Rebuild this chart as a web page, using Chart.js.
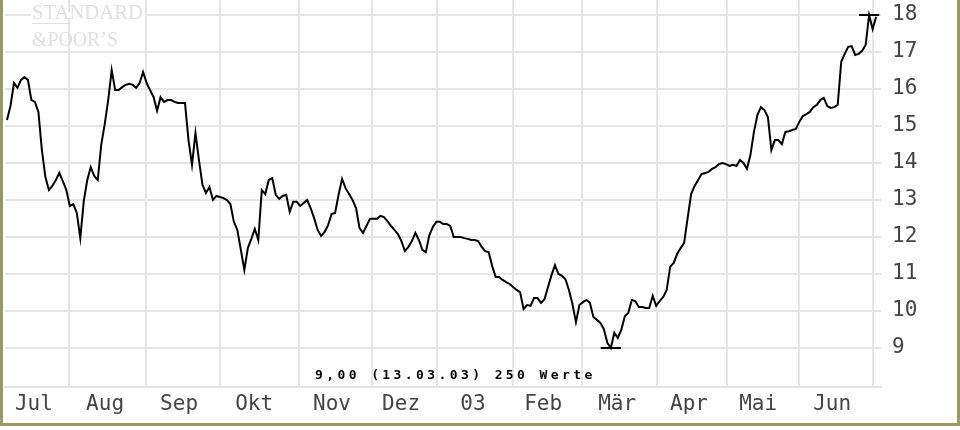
<!DOCTYPE html>
<html>
<head>
<meta charset="utf-8">
<script src="https://cdn.jsdelivr.net/npm/chart.js@4.4.1/dist/chart.umd.min.js"></script>
<style>
  html, body { margin: 0; padding: 0; background: #fff; }
  #wrap { width: 960px; height: 430px; }
</style>
</head>
<body>
<div id="wrap"><canvas id="chart" width="960" height="430"></canvas></div>
<script>
// daily closes, Jul 02 - Jun 03 (250 Werte)
const prices = [
    15.16, 15.54, 16.16, 16.03, 16.24, 16.32, 16.24, 15.70, 15.65, 15.38,
    14.35, 13.62, 13.27, 13.38, 13.54, 13.73, 13.51, 13.27, 12.84, 12.89,
    12.65, 11.97, 12.97, 13.54, 13.89, 13.65, 13.54, 14.49, 15.05, 15.70,
    16.51, 15.97, 15.97, 16.05, 16.11, 16.14, 16.11, 16.03, 16.16, 16.46,
    16.16, 15.97, 15.78, 15.41, 15.78, 15.65, 15.70, 15.70, 15.65, 15.62,
    15.62, 15.62, 14.62, 13.95, 14.81, 14.08, 13.41, 13.19, 13.35, 13.00,
    13.11, 13.08, 13.05, 13.00, 12.89, 12.41, 12.19, 11.65, 11.11, 11.70,
    11.95, 12.22, 11.92, 13.27, 13.16, 13.54, 13.59, 13.14, 13.03, 13.11,
    13.14, 12.68, 12.95, 12.95, 12.84, 12.92, 13.00, 12.78, 12.51, 12.19,
    12.03, 12.14, 12.32, 12.62, 12.65, 13.14, 13.57, 13.32, 13.16, 13.00,
    12.78, 12.24, 12.11, 12.30, 12.49, 12.49, 12.49, 12.57, 12.54, 12.43,
    12.30, 12.19, 12.08, 11.89, 11.62, 11.73, 11.89, 12.11, 11.92, 11.65,
    11.59, 12.05, 12.27, 12.41, 12.41, 12.35, 12.35, 12.30, 12.00, 12.00,
    12.00, 11.97, 11.95, 11.92, 11.92, 11.89, 11.73, 11.62, 11.59, 11.22,
    10.92, 10.92, 10.84, 10.78, 10.73, 10.65, 10.57, 10.51, 10.05, 10.16,
    10.14, 10.35, 10.35, 10.22, 10.32, 10.65, 10.97, 11.24, 11.00, 10.95,
    10.86, 10.57, 10.19, 9.70, 10.16, 10.24, 10.30, 10.22, 9.84, 9.76,
    9.68, 9.51, 9.14, 9.00, 9.41, 9.27, 9.49, 9.86, 9.95, 10.30,
    10.27, 10.11, 10.11, 10.08, 10.08, 10.41, 10.14, 10.27, 10.38, 10.57,
    11.19, 11.30, 11.54, 11.70, 11.84, 12.51, 13.16, 13.38, 13.54, 13.70,
    13.73, 13.76, 13.84, 13.89, 13.97, 14.00, 13.97, 13.92, 13.95, 13.92,
    14.08, 14.00, 13.84, 14.22, 14.84, 15.30, 15.51, 15.43, 15.24, 14.35,
    14.62, 14.62, 14.51, 14.84, 14.86, 14.89, 14.92, 15.11, 15.27, 15.32,
    15.38, 15.51, 15.57, 15.70, 15.76, 15.54, 15.49, 15.51, 15.57, 16.73,
    16.95, 17.14, 17.16, 16.92, 16.95, 17.03, 17.19, 18.00, 17.62, 17.95
];

const monthLabels = ['Jul', 'Aug', 'Sep', 'Okt', 'Nov', 'Dez', '03', 'Feb', 'M\u00e4r', 'Apr', 'Mai', 'Jun'];
const labelPos = [7.7, 28.1, 49.3, 70.8, 93.1, 112.9, 133.5, 153.6, 174.8, 195.4, 215.2, 236.4];
const monthStarts = [17.8, 39.8, 61.0, 83.7, 104.6, 123.2, 145.0, 164.8, 186.2, 206.3, 226.9, 248.1];
const yTicks = [9, 10, 11, 12, 13, 14, 15, 16, 17, 18];
const note = '9,00 (13.03.03) 250 Werte';

const X_MIN = -0.57, X_MAX = 250.4;
const Y_MIN = 7.946, Y_MAX = 18.405;
const GRID = '#e5e5e5';
const tickFont = { family: '"DejaVu Sans Mono", monospace', size: 21 };

// small horizontal bars at the high and low
const maxIdx = prices.indexOf(Math.max(...prices));
const minIdx = prices.indexOf(Math.min(...prices));
const markHalf = 2.9;
function markAt(i) {
    return [{ x: i - markHalf, y: prices[i] }, { x: i + markHalf, y: prices[i] }];
}

function noPad(s) {
    s.paddingTop = 0;
    s.paddingBottom = 0;
    s.paddingLeft = 0;
    s.paddingRight = 0;
}

const frame = {
    id: 'frame',
    beforeDatasetsDraw(chart) {
        const ctx = chart.ctx;
        ctx.save();
        ctx.fillStyle = '#fff';
        ctx.fillRect(31, 12, 114, 6);
        ctx.fillStyle = '#e0e0e0';
        ctx.font = '21px "Liberation Serif", serif';
        ctx.textBaseline = 'alphabetic';
        ctx.fillText('STANDARD', 32, 19, 111);
        ctx.fillText('&POOR\u2019S', 32, 46, 86);
        ctx.fillRect(32, 23, 38, 1);
        ctx.restore();
    },
    afterDraw(chart) {
        const ctx = chart.ctx;
        ctx.save();
        ctx.fillStyle = '#000';
        ctx.font = 'bold 13px "DejaVu Sans Mono", monospace';
        ctx.letterSpacing = '3.4px';
        ctx.textBaseline = 'alphabetic';
        ctx.fillText(note, 315, 379);
        ctx.letterSpacing = '0px';
        ctx.fillStyle = '#999966';
        ctx.fillRect(0, 0, 3, 426);
        ctx.fillRect(957, 0, 3, 426);
        ctx.fillRect(0, 423, 960, 3);
        ctx.restore();
    }
};

const lineStyle = { borderColor: '#000', borderWidth: 2, pointRadius: 0, tension: 0, fill: false };

new Chart(document.getElementById('chart'), {
    type: 'line',
    data: {
        datasets: [
            Object.assign({ data: prices.map((v, i) => ({ x: i, y: v })) }, lineStyle),
            Object.assign({ data: markAt(maxIdx) }, lineStyle),
            Object.assign({ data: markAt(minIdx) }, lineStyle)
        ]
    },
    options: {
        responsive: false,
        animation: false,
        devicePixelRatio: 1,
        layout: { padding: { left: 5, top: 0, right: 0, bottom: 0 } },
        plugins: { legend: { display: false }, tooltip: { enabled: false } },
        scales: {
            x: {
                type: 'linear', position: 'bottom', weight: 0,
                min: X_MIN, max: X_MAX,
                afterBuildTicks: s => { s.ticks = monthStarts.map(v => ({ value: v })); },
                afterFit: s => { s.height = 0; noPad(s); },
                ticks: { display: false },
                grid: { color: GRID, lineWidth: 2, drawTicks: false },
                border: { display: true, color: GRID, width: 2 }
            },
            xl: {
                type: 'linear', position: 'bottom', weight: 1,
                min: X_MIN, max: X_MAX,
                afterBuildTicks: s => { s.ticks = labelPos.map(v => ({ value: v })); },
                afterFit: s => { s.height = 43; noPad(s); },
                ticks: {
                    autoSkip: false, maxRotation: 0, padding: 5,
                    font: tickFont, color: '#444',
                    callback: (v, i) => monthLabels[i]
                },
                grid: { display: false, drawTicks: false },
                border: { display: false }
            },
            y: {
                position: 'right',
                min: Y_MIN, max: Y_MAX,
                afterBuildTicks: s => { s.ticks = yTicks.map(v => ({ value: v })); },
                afterFit: s => { s.width = 79; noPad(s); },
                ticks: { padding: 11, font: tickFont, color: '#444' },
                grid: { color: GRID, lineWidth: 2, drawTicks: false },
                border: { display: false }
            }
        }
    },
    plugins: [frame]
});
</script>
</body>
</html>
